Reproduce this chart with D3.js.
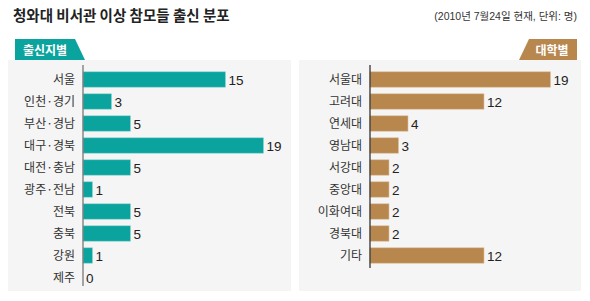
<!DOCTYPE html>
<html>
<head>
<meta charset="utf-8">
<script src="https://cdn.jsdelivr.net/npm/d3@7"></script>
<style>
  body { margin: 0; background: #fff; }
  svg { display: block; font-family: "Liberation Sans", "Noto Sans CJK KR", sans-serif; }
</style>
</head>
<body>
<div id="chart"></div>
<script>
const regions = ['서울', '인천·경기', '부산·경남', '대구·경북', '대전·충남', '광주·전남', '전북', '충북', '강원', '제주'];
const regionValues = [15, 3, 5, 19, 5, 1, 5, 5, 1, 0];
const schools = ['서울대', '고려대', '연세대', '영남대', '서강대', '중앙대', '이화여대', '경북대', '기타'];
const schoolValues = [19, 12, 4, 3, 2, 2, 2, 2, 12];

const width = 590, height = 301;
const svg = d3.select('#chart').append('svg')
  .attr('width', width).attr('height', height);

// title + note
svg.append('text').attr('x', 13).attr('y', 21)
  .attr('font-family', '"Noto Sans CJK KR"').attr('font-weight', 'bold')
  .attr('font-size', 14.5).attr('fill', '#222')
  .text('청와대 비서관 이상 참모들 출신 분포');
svg.append('text').attr('x', 577).attr('y', 20).attr('text-anchor', 'end')
  .attr('font-size', 10.5).attr('fill', '#333')
  .text('(2010년 7월24일 현재, 단위: 명)');

const step = 22;

function panel(opt) {
  const g = svg.append('g');
  g.append('rect').attr('x', opt.px).attr('y', 60).attr('width', opt.pw).attr('height', 231)
    .attr('fill', '#f5f5f5');

  // tab
  g.append('path').attr('d', opt.tab).attr('fill', opt.color);
  g.append('text').attr('x', opt.tabX).attr('y', 54.5).attr('text-anchor', 'middle')
    .attr('font-family', '"Noto Sans CJK KR"').attr('font-weight', 'bold')
    .attr('font-size', 12).attr('fill', '#fff').text(opt.title);

  const y = d3.scaleBand().domain(opt.cats)
    .range([68.5, 68.5 + step * opt.cats.length])
    .paddingInner(0.3).paddingOuter(0.15);
  const x = d3.scaleLinear().domain([0, 19]).range([opt.ax, opt.ax + 180.5]);

  const data = opt.cats.map((c, i) => ({ c, v: opt.vals[i] }));

  g.selectAll('.bar').data(data).join('rect')
    .attr('class', 'bar')
    .attr('x', x(0)).attr('y', d => y(d.c))
    .attr('width', d => x(d.v) - x(0)).attr('height', y.bandwidth())
    .attr('fill', opt.color).attr('stroke', opt.edge).attr('stroke-width', 0.6);

  g.append('line').attr('x1', x(0)).attr('x2', x(0))
    .attr('y1', 65).attr('y2', opt.axBottom)
    .attr('stroke', opt.axColor).attr('stroke-width', 1.3);

  g.selectAll('.lab').data(data).join('text')
    .attr('class', 'lab')
    .attr('x', opt.ax - 8).attr('y', d => y(d.c) + y.bandwidth() / 2 + 4.5)
    .attr('text-anchor', 'end').attr('font-family', '"Noto Sans CJK KR"')
    .attr('font-size', 12).attr('fill', '#333').text(d => d.c);

  g.selectAll('.val').data(data).join('text')
    .attr('class', 'val')
    .attr('x', d => x(d.v) + 3).attr('y', d => y(d.c) + y.bandwidth() / 2 + 5)
    .attr('font-size', 13.5).attr('fill', '#222').text(d => d.v);
}

panel({
  cats: regions, vals: regionValues, color: '#0aa39e', edge: '#8fd6d2',
  px: 8, pw: 283, ax: 83, axBottom: 286, axColor: '#777',
  title: '출신지별', tabX: 45, tab: 'M15,39 L75,39 L85,60 L15,60 Z'
});
panel({
  cats: schools, vals: schoolValues, color: '#b8874e', edge: '#dcc0a0',
  px: 299, pw: 282, ax: 370, axBottom: 268, axColor: '#333',
  title: '대학별', tabX: 552, tab: 'M529,39 L577,39 L577,60 L519,60 Z'
});
</script>
</body>
</html>
